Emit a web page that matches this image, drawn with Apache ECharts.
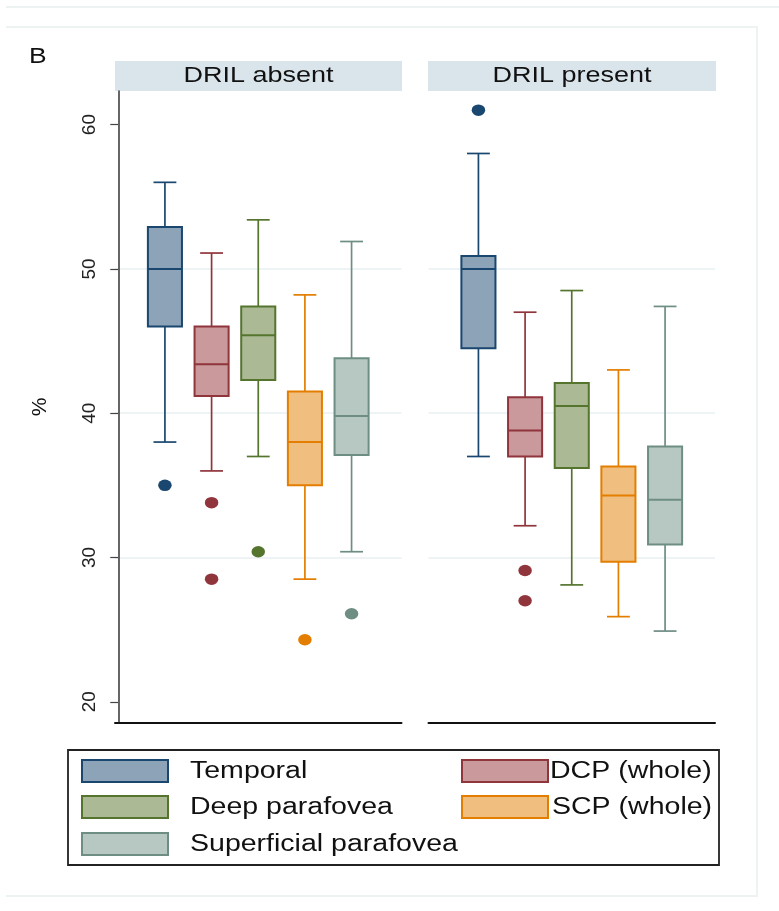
<!DOCTYPE html>
<html>
<head>
<meta charset="utf-8">
<script src="https://cdn.jsdelivr.net/npm/echarts@6/dist/echarts.min.js"></script>
<style>
  html, body { margin: 0; padding: 0; background: #ffffff; }
  #chart { width: 779px; height: 911px; }
</style>
</head>
<body>
<div id="chart"></div>
<script>
// Box-and-whisker summaries of vessel density (%) by region, split by DRIL status.
const groups = ['Temporal', 'DCP (whole)', 'Deep parafovea', 'SCP (whole)', 'Superficial parafovea'];
const panelTitles = ['DRIL absent', 'DRIL present'];
const yTicks = [20, 30, 40, 50, 60];

// DRIL absent
const absentLow     = [38.0, 36.0, 37.0, 28.5, 30.4];
const absentQ1      = [46.0, 41.2, 42.3, 35.0, 37.1];
const absentMedian  = [50.0, 43.4, 45.4, 38.0, 39.8];
const absentQ3      = [52.9, 46.0, 47.4, 41.5, 43.8];
const absentHigh    = [56.0, 51.1, 53.4, 48.2, 51.9];
const absentOutliers = [[35.0], [33.8, 28.5], [30.4], [24.3], [26.1]];

// DRIL present
const presentLow     = [37.0, 32.2, 28.1, 25.9, 24.9];
const presentQ1      = [44.5, 37.0, 36.2, 29.7, 30.9];
const presentMedian  = [50.0, 38.8, 40.5, 34.3, 34.0];
const presentQ3      = [50.9, 41.1, 42.1, 36.3, 37.7];
const presentHigh    = [58.0, 47.0, 48.5, 43.0, 47.4];
const presentOutliers = [[61.0], [29.1, 27.0], [], [], []];

// Styling
const strokeColors = ['#1a476f', '#90353b', '#55752f', '#e37e00', '#6e8e84'];
const fillColors   = ['#8ca3b8', '#c9999c', '#abba95', '#f0bf80', '#b7c7c1'];
const FONT = 'Liberation Sans, Arial, sans-serif';
const gridLineColor = '#e9f0f2';

const panels = [
  { low: absentLow, q1: absentQ1, med: absentMedian, q3: absentQ3, high: absentHigh, out: absentOutliers },
  { low: presentLow, q1: presentQ1, med: presentMedian, q3: presentQ3, high: presentHigh, out: presentOutliers }
];

function boxRenderer(gi) {
  return function (params, api) {
    const x = api.value(0);
    const pLow = api.coord([x, api.value(1)]);
    const pQ1 = api.coord([x, api.value(2)]);
    const pMed = api.coord([x, api.value(3)]);
    const pQ3 = api.coord([x, api.value(4)]);
    const pHigh = api.coord([x, api.value(5)]);
    const unit = api.size([1, 0])[0];
    const bw = unit * 0.73;
    const cw = unit * 0.49;
    const cx = pMed[0];
    const stroke = strokeColors[gi];
    const lineStyle = { stroke: stroke, lineWidth: 1.7 };
    return {
      type: 'group',
      children: [
        { type: 'line', shape: { x1: cx, y1: pQ3[1], x2: cx, y2: pHigh[1] }, style: lineStyle },
        { type: 'line', shape: { x1: cx, y1: pQ1[1], x2: cx, y2: pLow[1] }, style: lineStyle },
        { type: 'line', shape: { x1: cx - cw / 2, y1: pHigh[1], x2: cx + cw / 2, y2: pHigh[1] }, style: lineStyle },
        { type: 'line', shape: { x1: cx - cw / 2, y1: pLow[1], x2: cx + cw / 2, y2: pLow[1] }, style: lineStyle },
        { type: 'rect', shape: { x: cx - bw / 2, y: pQ3[1], width: bw, height: pQ1[1] - pQ3[1] },
          style: { fill: fillColors[gi], stroke: stroke, lineWidth: 2 } },
        { type: 'line', shape: { x1: cx - bw / 2, y1: pMed[1], x2: cx + bw / 2, y2: pMed[1] },
          style: { stroke: stroke, lineWidth: 2 } }
      ]
    };
  };
}

const grids = [
  { left: 115, top: 91, width: 286.5, height: 631.7 },
  { left: 428.5, top: 91, width: 286.5, height: 631.7 }
];

const xAxes = grids.map((g, p) => ({
  gridIndex: p, type: 'value', min: -0.07, max: 6.07,
  axisLine: { show: true, onZero: false, lineStyle: { color: '#111', width: 2 } },
  axisTick: { show: false }, axisLabel: { show: false }, splitLine: { show: false }
}));

const yAxes = grids.map((g, p) => ({
  gridIndex: p, type: 'value', min: 18.55, max: 62.33, splitNumber: 5,
  axisLine: { show: p === 0, lineStyle: { color: '#333', width: 1.5 } },
  axisTick: { show: p === 0, length: 8, customValues: yTicks, lineStyle: { color: '#444', width: 1.2 } },
  axisLabel: { show: p === 0, customValues: yTicks, rotate: 90, margin: 16,
               fontSize: 19, color: '#222', fontFamily: FONT },
  splitLine: { show: true, showMinLine: false, showMaxLine: false,
               lineStyle: { color: gridLineColor, width: 1.5 } },
  name: p === 0 ? '%' : '', nameLocation: 'middle', nameGap: 64, nameRotate: 90,
  nameTextStyle: { fontSize: 21, color: '#111', fontFamily: FONT }
}));

const series = [];
panels.forEach((pd, p) => {
  groups.forEach((name, gi) => {
    series.push({
      type: 'custom', name: name, xAxisIndex: p, yAxisIndex: p,
      encode: { x: 0, y: [1, 2, 3, 4, 5] },
      data: [[gi + 1, pd.low[gi], pd.q1[gi], pd.med[gi], pd.q3[gi], pd.high[gi]]],
      renderItem: boxRenderer(gi), z: 2
    });
    if (pd.out[gi].length) {
      series.push({
        type: 'scatter', name: name, xAxisIndex: p, yAxisIndex: p,
        data: pd.out[gi].map(v => [gi + 1, v]),
        symbol: 'circle', symbolSize: [13.5, 11.5],
        itemStyle: { color: strokeColors[gi], opacity: 1 }, z: 3
      });
    }
  });
});

// Frame, panel headers and key
const frameColor = '#edf2f2';
const graphic = [
  { type: 'line', shape: { x1: 6, y1: 7, x2: 779, y2: 7 }, style: { stroke: frameColor, lineWidth: 2 } },
  { type: 'polyline', shape: { points: [[6, 27], [757, 27], [757, 896], [6, 896]] },
    style: { stroke: frameColor, lineWidth: 2, fill: null } },
  { type: 'text', x: 29, y: 57, scaleX: 1.2,
    style: { text: 'B', font: '22px ' + FONT, fill: '#111', textAlign: 'left', textVerticalAlign: 'middle' } }
];
const headerX = [[115, 402], [428, 716]];
panelTitles.forEach((t, p) => {
  const [a, b] = headerX[p];
  graphic.push({ type: 'rect', shape: { x: a, y: 61, width: b - a, height: 30 }, style: { fill: '#d9e5eb' } });
  graphic.push({ type: 'text', x: (a + b) / 2, y: 75.5, scaleX: 1.2,
    style: { text: t, font: '22.5px ' + FONT, fill: '#111', textAlign: 'center', textVerticalAlign: 'middle' } });
});

// key box
graphic.push({ type: 'rect', shape: { x: 68, y: 750, width: 651, height: 115 },
  style: { fill: '#fff', stroke: '#222', lineWidth: 1.8 } });
const keyItems = [
  { gi: 0, ix: 82, tx: 190, row: 0 },
  { gi: 2, ix: 82, tx: 190, row: 1 },
  { gi: 4, ix: 82, tx: 190, row: 2 },
  { gi: 1, ix: 462, tx: 550, row: 0 },
  { gi: 3, ix: 462, tx: 552, row: 1 }
];
const rowY = [771, 807, 844];
keyItems.forEach(k => {
  const cy = rowY[k.row];
  graphic.push({ type: 'rect', shape: { x: k.ix, y: cy - 11, width: 86, height: 22 },
    style: { fill: fillColors[k.gi], stroke: strokeColors[k.gi], lineWidth: 2 } });
  graphic.push({ type: 'text', x: k.tx, y: cy + 1, scaleX: 1.24,
    style: { text: groups[k.gi], font: '23px ' + FONT, fill: '#111', textAlign: 'left', textVerticalAlign: 'middle' } });
});

const chart = echarts.init(document.getElementById('chart'), null, { renderer: 'canvas' });
chart.setOption({
  backgroundColor: '#ffffff',
  animation: false,
  grid: grids,
  xAxis: xAxes,
  yAxis: yAxes,
  series: series,
  graphic: graphic
});
</script>
</body>
</html>
